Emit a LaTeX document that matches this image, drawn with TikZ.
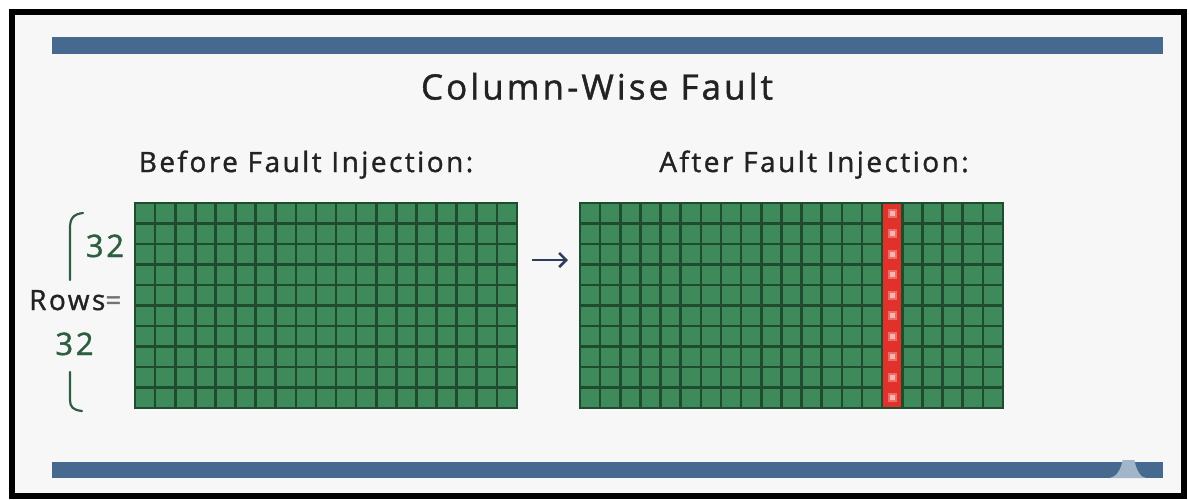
\documentclass[tikz,border=0pt]{standalone}
\usepackage{fontspec}
\setmainfont{Open Sans}[LetterSpace=8.8, FakeBold=1.2]
\usetikzlibrary{arrows.meta}

\definecolor{pagebg}{HTML}{F7F7F7}
\definecolor{barblue}{HTML}{466A8F}
\definecolor{barlight}{HTML}{A3B5C8}
\definecolor{cellgreen}{HTML}{3E8A5B}
\definecolor{gridline}{HTML}{1F4B2E}
\definecolor{faultred}{HTML}{E1312B}
\definecolor{faultdot}{HTML}{F9B5B0}
\definecolor{labelgreen}{HTML}{2E5E40}
\definecolor{arrowblue}{HTML}{2B3E5C}
\definecolor{textdark}{HTML}{222222}

\tikzset{
  titletext/.style={font=\fontsize{35}{40}\selectfont, text=textdark, anchor=base, inner sep=0},
  headtext/.style={font=\fontsize{28}{32}\selectfont, text=textdark, anchor=base, inner sep=0},
  numtext/.style={font=\fontsize{31}{34}\selectfont, text=labelgreen, anchor=base, inner sep=0},
  gridbox/.style={draw=gridline, line width=2.2pt, fill=cellgreen, anchor=north west,
    inner sep=0, outer sep=0},
  gridrule/.style={gridline, line width=2.6pt},
  bar/.style={fill=barblue},
  flowarrow/.style={arrowblue, line width=2.6pt,
    -{Straight Barb[length=7pt, width=14pt, line width=2.6pt]}},
  bracket/.style={labelgreen, line width=2.2pt, line cap=round},
}

\begin{document}
\begin{tikzpicture}[x=1pt, y=-1pt]
  \useasboundingbox (0,0) rectangle (1189,499);
  \fill[white] (0,0) rectangle (1189,499);

  % frame and page
  \fill[pagebg] (11.5,11.5) rectangle (1184,496);
  \draw[black, line width=6pt] (11.5,11.5) rectangle (1184,496);

  % decorative bars
  \fill[bar] (52,37) rectangle (1163,54);
  \fill[bar] (52,462) rectangle (1163,478);
  \fill[barlight] (1108,478) .. controls (1116,478) and (1121,470) .. (1122.5,460)
    -- (1134.5,460) .. controls (1136,470) and (1141,478) .. (1146,478) -- cycle;

  % headings
  \node[titletext] (title) at (597,99.5) {Column-Wise Fault};
  \node[headtext] (before) at (306,172) {Before Fault Injection:};
  \node[headtext] (after) at (814,172) {After Fault Injection:};

  % ---- grid before injection: 19 x 10 cells ----
  \node[gridbox, minimum width=382pt, minimum height=205pt] (gridL) at (135,203) {};
  \begin{scope}[shift={(135,203)}]
    \foreach \i in {1,...,18}
      \draw[gridrule] (\i*20.105,0) -- (\i*20.105,205);
    \foreach \j in {1,...,9}
      \draw[gridrule] (0,\j*20.5) -- (382,\j*20.5);
  \end{scope}

  % ---- grid after injection: 21 x 10 cells, column 16 faulty ----
  \node[gridbox, minimum width=423pt, minimum height=205pt] (gridR) at (580,203) {};
  \begin{scope}[shift={(580,203)}]
    \fill[faultred] (15*20.143,0) rectangle (16*20.143,205);
    \foreach \j in {1,...,9} {
      \draw[gridrule] (0,\j*20.5) -- (15*20.143,\j*20.5);
      \draw[gridrule] (16*20.143,\j*20.5) -- (423,\j*20.5);
    }
    \foreach \i in {1,...,20}
      \draw[gridrule] (\i*20.143,0) -- (\i*20.143,205);
    \foreach \j in {0,...,9} {
      \fill[faultdot!45!faultred] (15.5*20.143-4.5,\j*20.5+10.25-4.5) rectangle ++(9,9);
      \fill[faultdot] (15.5*20.143-2.5,\j*20.5+10.25-2.5) rectangle ++(5,5);
    }
  \end{scope}
  \draw[gridline, line width=2.2pt] (gridL.north west) rectangle (gridL.south east);
  \draw[gridline, line width=2.2pt] (gridR.north west) rectangle (gridR.south east);

  % arrow between the grids
  \coordinate (arrowfrom) at (532,260);
  \coordinate (arrowto) at (568,260);
  \draw[flowarrow] (arrowfrom) -- (arrowto);

  % row annotation
  \node[numtext] (rowsTop) at (105,257) {32};
  \node[headtext, anchor=base west] (rows) at (29,310)
    {Rows{\color{gray!90!black}=}};
  \node[numtext] (rowsBot) at (74.5,355) {32};
  \draw[bracket] (83,213) .. controls (73,214) and (70,219) .. (70,228) -- (70,280);
  \draw[bracket] (70,372) -- (70,400) .. controls (70,407) and (73,410) .. (82,411);
\end{tikzpicture}
\end{document}
